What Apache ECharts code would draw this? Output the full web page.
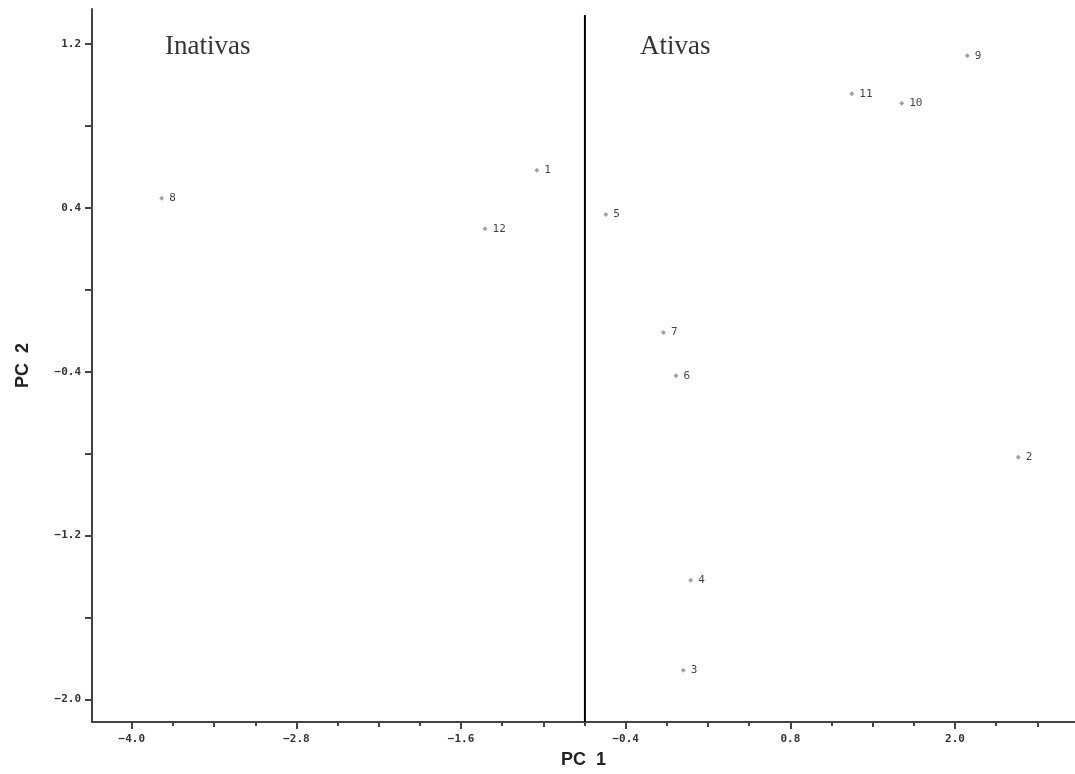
<!DOCTYPE html>
<html>
<head>
<meta charset="utf-8">
<script src="https://cdn.jsdelivr.net/npm/echarts@6/dist/echarts.min.js"></script>
<style>html,body{margin:0;padding:0;background:#fff}#c{width:1075px;height:774px}</style>
</head>
<body>
<div id="c"></div>
<script>
// ---- data ----
const categories = ['1', '2', '3', '4', '5', '6', '7', '8', '9', '10', '11', '12'];
const pc1 = [-1.048, 2.462, 0.020, 0.074, -0.545, -0.033, -0.125, -3.782, 2.090, 1.612, 1.248, -1.425];
const pc2 = [0.584, -0.818, -1.858, -1.419, 0.368, -0.420, -0.208, 0.448, 1.144, 0.912, 0.958, 0.298];

const xTickLabels = [-4.0, -2.8, -1.6, -0.4, 0.8, 2.0];
const xMidTicks = [-4.0, -3.4, -2.8, -2.2, -1.6, -1.0, -0.4, 0.2, 0.8, 1.4, 2.0, 2.6];
const xMinorTicks = [-4.0, -3.7, -3.4, -3.1, -2.8, -2.5, -2.2, -1.9, -1.6, -1.3, -1.0, -0.7, -0.4, -0.1, 0.2, 0.5, 0.8, 1.1, 1.4, 1.7, 2.0, 2.3, 2.6];
const yTickLabels = [1.2, 0.4, -0.4, -1.2, -2.0];
const yTicks = [1.2, 0.8, 0.4, 0.0, -0.4, -0.8, -1.2, -1.6, -2.0];

const dividerX = -0.697;
const dividerY = [1.343, -2.111];
const groupNames = ['Inativas', 'Ativas'];
const groupPos = [[-3.757, 1.187], [-0.295, 1.187]];

const xRange = [-4.29, 2.875];
const yRange = [-2.111, 1.372];

// ---- chart ----
const fmt = v => (v < 0 ? '\u2212' : '') + Math.abs(v).toFixed(1);
const mono = 'DejaVu Sans Mono';
const axisCol = '#444';

function xAx(opts) {
  return Object.assign({
    type: 'value', position: 'bottom', min: xRange[0], max: xRange[1],
    gridIndex: 0,
    axisLine: { show: false, onZero: false },
    splitLine: { show: false },
    axisLabel: { show: false },
    axisTick: { show: false }
  }, opts);
}

const chart = echarts.init(document.getElementById('c'));
chart.setOption({
  animation: false,
  backgroundColor: '#fff',
  grid: { left: 92, right: 0, top: 9, bottom: 50, containLabel: false },
  xAxis: [
    xAx({
      name: 'PC  1', nameLocation: 'middle', nameGap: 29,
      nameTextStyle: { fontFamily: 'Liberation Sans', fontWeight: 'bold', fontSize: 18, color: '#222' },
      axisLine: { show: true, onZero: false, lineStyle: { color: axisCol, width: 2 } },
      axisTick: { show: true, length: 4, customValues: xMinorTicks, lineStyle: { color: axisCol, width: 2 } }
    }),
    xAx({
      axisTick: { show: true, length: 5, customValues: xMidTicks, lineStyle: { color: axisCol, width: 2 } }
    }),
    xAx({
      axisTick: { show: true, length: 7, customValues: xTickLabels, lineStyle: { color: axisCol, width: 2 } },
      axisLabel: { show: true, customValues: xTickLabels, formatter: fmt, margin: 12,
        fontFamily: mono, fontSize: 11, color: '#333', fontWeight: 'bold' }
    })
  ],
  yAxis: [{
    type: 'value', min: yRange[0], max: yRange[1],
    name: 'PC  2', nameLocation: 'middle', nameGap: 60,
    nameTextStyle: { fontFamily: 'Liberation Sans', fontWeight: 'bold', fontSize: 18, color: '#222' },
    axisLine: { show: true, onZero: false, lineStyle: { color: axisCol, width: 2 } },
    axisTick: { show: true, length: 7, customValues: yTicks, lineStyle: { color: axisCol, width: 2 } },
    axisLabel: { show: true, customValues: yTickLabels, formatter: fmt, margin: 11,
      fontFamily: mono, fontSize: 11, color: '#333', fontWeight: 'bold' },
    splitLine: { show: false }
  }],
  series: [
    {
      type: 'line', xAxisIndex: 0, yAxisIndex: 0,
      data: dividerY.map(y => [dividerX, y]),
      symbol: 'none', silent: true,
      lineStyle: { color: '#000', width: 2 }
    },
    {
      type: 'scatter', xAxisIndex: 0, yAxisIndex: 0,
      data: categories.map((c, i) => ({ value: [pc1[i], pc2[i]], name: c })),
      symbol: 'diamond', symbolSize: 5,
      itemStyle: { color: '#8a8a8a' },
      label: { show: true, position: 'right', distance: 5, formatter: p => p.name,
        fontFamily: mono, fontSize: 11, color: '#111' }
    },
    {
      type: 'scatter', xAxisIndex: 0, yAxisIndex: 0, silent: true,
      data: groupNames.map((g, i) => ({ value: groupPos[i], name: g })),
      symbolSize: 0,
      label: { show: true, position: 'right', distance: 0, formatter: p => p.name,
        fontFamily: 'Liberation Serif', fontSize: 27, color: '#000' }
    }
  ]
});
</script>
</body>
</html>
